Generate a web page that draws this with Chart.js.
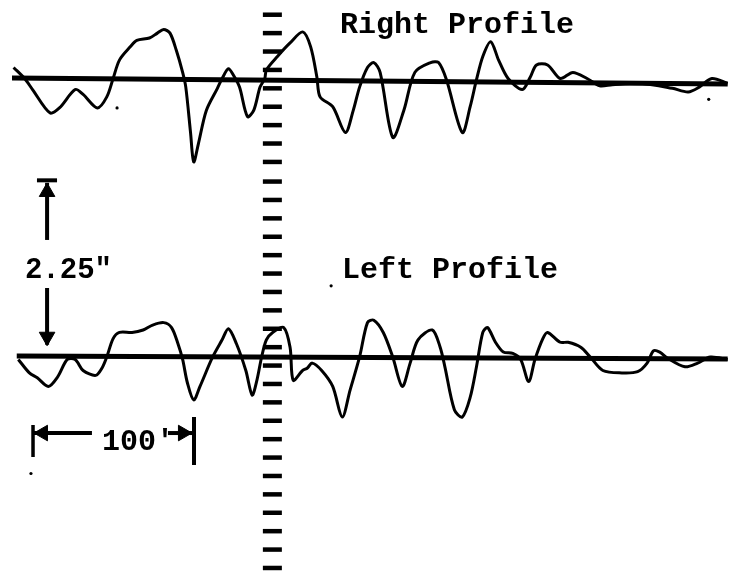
<!DOCTYPE html>
<html lang="en">
<head>
    <meta charset="UTF-8">
    <title>Right / Left Profile</title>
    <script src="https://cdn.jsdelivr.net/npm/chart.js"></script>
    <style>
        body {
            margin: 0;
            background-color: #ffffff;
        }
        #profileChart {
            display: block;
        }
    </style>
</head>
<body>
    <canvas id="profileChart" width="734" height="580"></canvas>

    <script>
// distance along track (ft) and offset from reference line (chart inches)
const rightX = [1, 8, 13, 24, 30, 40, 45, 54, 60, 64, 68, 75, 79, 87, 92, 96, 100, 104, 108, 110,
    113, 115, 118, 123, 130, 133, 137, 140, 144, 149, 153, 157, 160, 161, 168, 176, 184, 189, 193, 195,
    203, 211, 216, 220, 225, 229, 233, 241, 248, 255, 265, 270, 275, 285, 290, 294, 298, 303, 308, 314,
    323, 328, 332, 339, 347, 355, 364, 372, 380, 399, 418, 428, 435, 443, 453];
const rightY = [0.11, 0.02, -0.07, -0.26, -0.22, -0.07, -0.11, -0.22, -0.13, 0.02, 0.17, 0.28, 0.33, 0.35, 0.39, 0.42, 0.39, 0.25, 0.07, -0.05,
    -0.42, -0.66, -0.51, -0.24, -0.06, 0.02, 0.10, 0.05, -0.05, -0.29, -0.24, -0.05, 0.02, 0.09, 0.20, 0.31, 0.40, 0.28, 0.03, -0.13,
    -0.21, -0.42, -0.24, -0.05, 0.11, 0.15, 0.07, -0.46, -0.24, 0.07, 0.15, 0.15, 0.01, -0.42, -0.21, 0.01, 0.20, 0.32, 0.17, 0.02,
    -0.07, 0.03, 0.13, 0.13, 0.02, 0.07, 0.02, -0.04, -0.03, -0.02, -0.06, -0.09, -0.05, 0.02, -0.02];

const leftX = [4, 11, 16, 23, 29, 35, 40, 45, 53, 57, 60, 64, 68, 76, 83, 89, 96, 101, 105, 108,
    111, 115, 119, 127, 133, 137, 142, 148, 152, 155, 158, 161, 165, 172, 176, 178, 184, 187, 190, 196,
    203, 209, 214, 220, 225, 229, 235, 241, 247, 252, 257, 266, 271, 274, 280, 285, 290, 294, 298, 301,
    306, 311, 317, 322, 327, 331, 336, 339, 347, 352, 360, 366, 374, 386, 396, 402, 406, 410, 415, 426,
    434, 442, 453];
const leftY = [-0.02, -0.13, -0.17, -0.24, -0.16, -0.02, -0.02, -0.11, -0.15, -0.09, 0.00, 0.15, 0.20, 0.20, 0.22, 0.26, 0.28, 0.24, 0.11, -0.02,
    -0.21, -0.35, -0.24, 0.00, 0.14, 0.23, 0.11, -0.11, -0.31, -0.19, 0.00, 0.14, 0.20, 0.24, 0.08, -0.19, -0.11, -0.09, -0.05, -0.11,
    -0.24, -0.49, -0.27, 0.00, 0.28, 0.30, 0.20, 0.00, -0.24, -0.05, 0.14, 0.22, 0.08, -0.08, -0.43, -0.49, -0.33, -0.08, 0.20, 0.24,
    0.12, 0.04, 0.03, -0.02, -0.20, -0.02, 0.15, 0.20, 0.12, 0.12, 0.08, 0.00, -0.11, -0.13, -0.12, -0.05, 0.05, 0.04, -0.01, -0.08,
    -0.05, 0.00, -0.02];

// reference lines (ends)
const rightBaseX = [0, 453];
const rightBaseY = [2.274, 2.226];
const leftBaseX = [3, 453];
const leftBaseY = [0.008, -0.016];
const rightOffset = 2.25;

// centre scale marks
const markX = 164.8;
const markY = [2.79, 2.64, 2.49, 2.34, 2.19, 2.04, 1.89, 1.74, 1.59, 1.43, 1.28, 1.13, 0.98, 0.83, 0.68, 0.53,
    0.38, 0.23, 0.08, -0.07, -0.22, -0.37, -0.52, -0.67, -0.82, -0.97, -1.12, -1.27, -1.42, -1.57, -1.72];

// 2.25" and 100' dimension arrows
const vArrowX = 22.2;
const upShaftY = [0.954, 1.42];
const upBarX = [15.8, 28.5];
const upBarY = 1.44;
const downShaftY = [0.562, 0.10];
const hArrowY = -0.62;
const leftDimX = [13.9, 50.6];
const rightDimX = [98.7, 115.2];
const leftStopX = 13.3;
const leftStopY = [-0.554, -0.815];
const rightStopX = 115.2;
const rightStopY = [-0.489, -0.880];

// specks on the copy
const speckX = [66.5, 441, 12, 202];
const speckY = [2.03, 2.10, -0.95, 0.58];

const labels = [
    { text: 'Right Profile', x: 207.6, y: 2.64, size: 30 },
    { text: 'Left Profile', x: 208.9, y: 0.64, size: 30 },
    { text: '2.25"', x: 8.2, y: 0.645, size: 29 },
    { text: "100'", x: 56.9, y: -0.76, size: 30 }
];

const xy = (xs, ys, dy) => xs.map((x, i) => ({ x: x, y: ys[i] + (dy || 0) }));

const traceStyle = {
    showLine: true,
    borderColor: '#000',
    borderWidth: 3,
    pointRadius: 0,
    tension: 0.3,
    fill: false
};
const lineStyle = {
    showLine: true,
    borderColor: '#000',
    pointRadius: 0,
    tension: 0,
    fill: false
};
const head = (x, y, rot) => ({
    data: [{ x: x, y: y }],
    pointStyle: 'triangle',
    rotation: rot,
    pointRadius: 9,
    backgroundColor: '#000',
    borderColor: '#000',
    borderWidth: 1
});

// text labels drawn in data coordinates
const textPlugin = {
    id: 'profileText',
    afterDatasetsDraw(chart) {
        const ctx = chart.ctx;
        const xs = chart.scales.x, ys = chart.scales.y;
        ctx.save();
        ctx.fillStyle = '#000';
        ctx.textBaseline = 'alphabetic';
        ctx.textAlign = 'left';
        labels.forEach(l => {
            ctx.font = 'bold ' + l.size + 'px "Liberation Mono", "DejaVu Sans Mono", monospace';
            ctx.fillText(l.text, xs.getPixelForValue(l.x), ys.getPixelForValue(l.y));
        });
        ctx.restore();
    }
};

var ctx = document.getElementById('profileChart').getContext('2d');
var chart = new Chart(ctx, {
    type: 'scatter',
    data: {
        datasets: [
            Object.assign({ data: xy(rightBaseX, rightBaseY) }, lineStyle, { borderWidth: 5 }),
            Object.assign({ data: xy(leftBaseX, leftBaseY) }, lineStyle, { borderWidth: 5 }),
            Object.assign({ data: xy(rightX, rightY, rightOffset) }, traceStyle),
            Object.assign({ data: xy(leftX, leftY) }, traceStyle),
            {
                data: markY.map(y => ({ x: markX, y: y })),
                pointStyle: 'line',
                pointRadius: 9.5,
                borderColor: '#000',
                borderWidth: 4.5
            },
            Object.assign({ data: xy([vArrowX, vArrowX], upShaftY) }, lineStyle, { borderWidth: 4 }),
            Object.assign({ data: xy(upBarX, [upBarY, upBarY]) }, lineStyle, { borderWidth: 4 }),
            head(vArrowX, 1.345, 0),
            Object.assign({ data: xy([vArrowX, vArrowX], downShaftY) }, lineStyle, { borderWidth: 4 }),
            head(vArrowX, 0.165, 180),
            Object.assign({ data: xy(leftDimX, [hArrowY, hArrowY]) }, lineStyle, { borderWidth: 4 }),
            head(19.6, hArrowY, 270),
            Object.assign({ data: xy(rightDimX, [hArrowY, hArrowY]) }, lineStyle, { borderWidth: 4 }),
            head(108.2, hArrowY, 90),
            Object.assign({ data: xy([leftStopX, leftStopX], leftStopY) }, lineStyle, { borderWidth: 3.5 }),
            Object.assign({ data: xy([rightStopX, rightStopX], rightStopY) }, lineStyle, { borderWidth: 4 }),
            {
                data: xy(speckX, speckY),
                pointRadius: 1.6,
                backgroundColor: '#000',
                borderWidth: 0
            }
        ]
    },
    options: {
        responsive: false,
        animation: false,
        layout: { padding: 0, autoPadding: false },
        plugins: {
            legend: { display: false },
            tooltip: { enabled: false }
        },
        scales: {
            x: { type: 'linear', display: false, min: -7.6, max: 457.0 },
            y: { type: 'linear', display: false, min: -1.818, max: 2.910 }
        }
    },
    plugins: [textPlugin]
});
    </script>
</body>
</html>
